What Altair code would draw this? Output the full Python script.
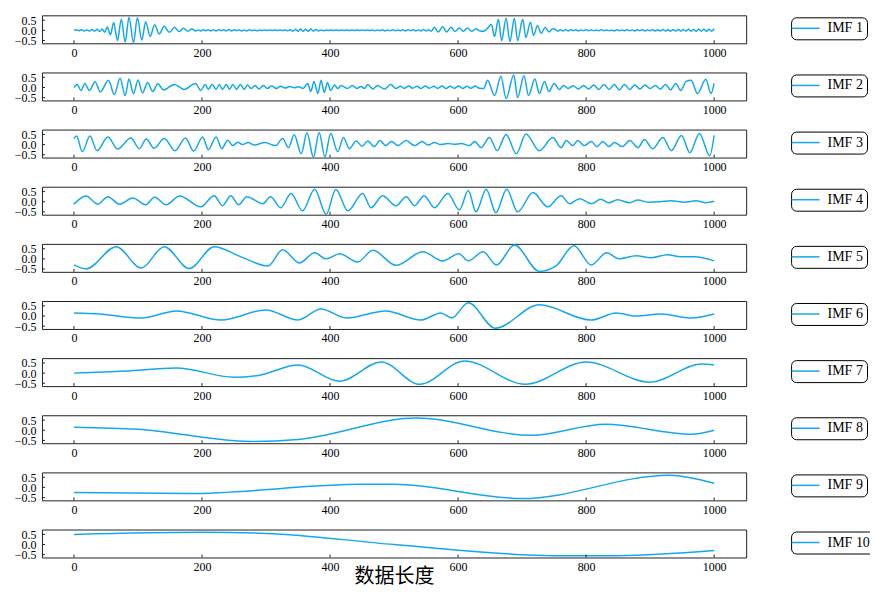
import altair as alt
import pandas as pd

LINE_COLOR = "#14a8ea"
NAMES = ["IMF 1", "IMF 2", "IMF 3", "IMF 4", "IMF 5",
         "IMF 6", "IMF 7", "IMF 8", "IMF 9", "IMF 10"]
X_TICKS = [0, 200, 400, 600, 800, 1000]
Y_TICKS = [-0.5, 0.0, 0.5]
X_DOMAIN = [-50, 1050]
Y_DOMAIN = [-0.64, 0.74]
X_TITLE = "数据长度"

# ---------------- IMF 1 (high frequency, two bursts) ----------------
IMF1_A_START, IMF1_STEP = 0, 4
IMF1_A = [0.0, 0.03, -0.02, 0.03, -0.03, 0.02, -0.03, 0.04, -0.04, 0.05]
IMF1_BURST1_X = [40, 44, 48, 52, 57, 62, 68, 74, 80, 86, 93, 99, 106, 112, 119,
                 126, 133, 141, 149, 157, 164, 171, 178, 184, 190]
IMF1_BURST1_Y = [-0.05, 0.07, -0.1, 0.16, -0.22, 0.38, -0.5, 0.55, -0.58, 0.65,
                 -0.62, 0.62, -0.48, 0.42, -0.3, 0.28, -0.18, 0.2, -0.1, 0.15,
                 -0.06, 0.1, -0.04, 0.07, -0.03]
IMF1_B_START = 194
IMF1_B = [0.02, -0.03, 0.03, -0.02, 0.03, -0.03, 0.02, -0.03, 0.03, -0.02,
          0.03, -0.03, 0.04, -0.03, 0.03, -0.02, 0.03, -0.03, 0.02, -0.03,
          0.03, -0.02, 0.02, -0.02, 0.01, -0.01, 0.01, -0.01, 0.01, -0.01,
          0.01, -0.01, 0.01, -0.01, 0.01, -0.02, 0.03, -0.04, 0.05, -0.05,
          0.06, -0.05, 0.05, -0.05, 0.06, -0.04, 0.04, -0.03, 0.02, -0.02,
          0.01, -0.01, 0.01, -0.01, 0.01, -0.01, 0.01, -0.01, 0.01, -0.01,
          0.01, -0.01, 0.01, -0.01, 0.01, -0.01, 0.01, -0.01, 0.02, -0.02,
          0.02, -0.02, 0.03, -0.03, 0.02, -0.02, 0.03, -0.02, 0.02, -0.02,
          0.03, -0.03, 0.03, -0.02, 0.03, -0.03, 0.02, -0.03, 0.04, -0.03,
          0.03]
IMF1_C_X = [558, 563, 569, 576, 582, 589, 595, 602, 608, 615, 621, 628, 634]
IMF1_C_Y = [-0.05, 0.15, -0.08, 0.18, -0.08, 0.15, -0.06, 0.12, -0.05, 0.12,
            -0.05, 0.08, -0.03]
IMF1_BURST2_X = [640, 646, 652, 657, 663, 668, 675, 681, 688, 693, 701, 706, 713,
                 718, 724, 730, 736, 742, 748]
IMF1_BURST2_Y = [-0.05, 0.1, 0.3, -0.3, 0.55, -0.5, 0.6, -0.55, 0.6, -0.5, 0.55,
                 -0.35, 0.4, -0.25, 0.22, -0.15, 0.15, -0.08, 0.08]
IMF1_D_START = 752
IMF1_D = [0.04, -0.04, 0.03, -0.03, 0.04, -0.03, 0.03, -0.02, 0.03, -0.03,
          0.02, -0.02, 0.03, -0.02, 0.02, -0.02, 0.02, -0.02, 0.03, -0.02,
          0.02, -0.02, 0.02, -0.03, 0.03, -0.02, 0.02, -0.02, 0.03, -0.02,
          0.02, -0.03, 0.03, -0.02, 0.03, -0.03, 0.02, -0.02, 0.03, -0.03,
          0.03, -0.03, 0.04, -0.03, 0.03, -0.04, 0.04, -0.03, 0.04, -0.04,
          0.04, -0.04, 0.05, -0.04, 0.04, -0.05, 0.05, -0.04, 0.05, -0.05,
          0.05, -0.04, 0.08]

# ---------------- IMF 2 ----------------
IMF2_X = [0, 5, 11, 17, 24, 33, 41, 54, 63, 72, 80, 86, 93, 100, 107, 115, 123,
          131, 140, 157, 172, 190, 198, 205, 210, 216, 222, 227, 232, 238, 243,
          248, 254, 260, 266, 271, 277, 283, 289, 296, 302, 309, 316, 323, 330,
          337, 344, 351, 358, 365, 370, 375, 381, 386, 391, 396, 401, 407, 412,
          417, 427, 435, 442, 448, 454, 459, 467, 474, 485, 495, 503, 510, 516,
          523, 529, 536, 542, 549, 555, 562, 568, 575, 581, 588, 594, 601, 607,
          614, 620, 627, 633, 640, 646, 657, 667, 675, 687, 693, 703, 710, 720,
          727, 735, 742, 750, 758, 765, 772, 780, 788, 796, 804, 812, 820, 828,
          836, 844, 852, 860, 868, 876, 884, 892, 900, 908, 916, 924, 932, 940,
          948, 956, 964, 974, 987, 995, 1000]
IMF2_Y = [0.0, 0.15, -0.15, 0.2, -0.15, 0.28, -0.22, 0.35, -0.35, 0.45, -0.4,
          0.42, -0.32, 0.37, -0.27, 0.25, -0.2, 0.18, -0.12, 0.15, -0.1, 0.2,
          -0.15, 0.15, -0.1, 0.15, -0.1, 0.15, -0.1, 0.15, -0.1, 0.15, -0.1,
          0.15, -0.1, 0.12, -0.05, 0.1, -0.08, 0.1, -0.05, 0.08, -0.05, 0.06,
          -0.03, 0.05, -0.02, 0.04, -0.05, 0.2, -0.2, 0.3, -0.3, 0.35, -0.25,
          0.25, -0.15, 0.12, -0.05, 0.1, -0.05, 0.1, -0.05, 0.05, -0.05, 0.15,
          -0.08, 0.1, -0.08, 0.15, -0.05, 0.06, -0.04, 0.07, -0.04, 0.06, -0.05,
          0.07, -0.04, 0.06, -0.04, 0.07, -0.05, 0.06, -0.04, 0.07, -0.05, 0.06,
          -0.04, 0.07, -0.04, -0.05, 0.35, -0.4, 0.55, -0.55, 0.62, -0.5, 0.58,
          -0.4, 0.42, -0.3, 0.3, -0.2, 0.2, -0.1, 0.1, -0.05, 0.08, -0.08, 0.1,
          -0.08, 0.12, -0.1, 0.15, -0.1, 0.15, -0.12, 0.15, -0.1, 0.12, -0.08,
          0.12, -0.05, 0.1, -0.08, 0.15, -0.12, 0.2, -0.15, 0.3, 0.35, -0.3,
          0.4, -0.3, 0.2]

# ---------------- IMF 3 ----------------
IMF3_X = [0, 4, 13, 25, 36, 53, 68, 89, 102, 113, 125, 141, 158, 174, 187, 201,
          210, 222, 231, 240, 248, 256, 263, 272, 282, 298, 315, 326, 335, 344,
          355, 364, 374, 383, 392, 401, 412, 421, 430, 441, 450, 459, 469, 478,
          487, 496, 506, 519, 532, 544, 553, 563, 573, 584, 594, 605, 618, 626,
          636, 649, 661, 675, 691, 706, 727, 748, 761, 769, 779, 787, 797, 808,
          817, 826, 836, 844, 857, 868, 881, 891, 904, 920, 933, 949, 962, 977,
          993, 1000]
IMF3_Y = [0.3, 0.42, -0.35, 0.42, -0.3, 0.38, -0.22, 0.33, -0.2, 0.28, -0.18,
          0.3, -0.3, 0.32, -0.32, 0.38, -0.25, 0.38, -0.2, 0.22, -0.05, 0.12,
          0.0, 0.1, -0.02, 0.1, -0.05, 0.3, -0.15, 0.48, -0.45, 0.58, -0.62, 0.6,
          -0.6, 0.55, -0.35, 0.35, -0.2, 0.18, -0.08, 0.18, -0.1, 0.2, -0.05,
          0.15, -0.05, 0.2, -0.05, 0.15, -0.02, 0.1, 0.0, 0.05, 0.02, 0.05,
          -0.05, 0.15, -0.15, 0.35, -0.3, 0.5, -0.45, 0.52, -0.3, 0.35, -0.15,
          0.2, -0.05, 0.2, -0.05, 0.15, -0.1, 0.15, -0.1, 0.1, -0.1, 0.2, -0.15,
          0.25, -0.2, 0.35, -0.3, 0.45, -0.4, 0.55, -0.55, 0.45]

# ---------------- IMF 4 ----------------
IMF4_X = [0, 19, 37, 53, 71, 92, 112, 126, 144, 165, 198, 219, 232, 245, 257,
          270, 295, 307, 323, 339, 357, 376, 394, 409, 428, 451, 464, 482, 503,
          519, 532, 547, 563, 584, 602, 616, 628, 644, 659, 676, 693, 717, 740,
          761, 774, 790, 808, 823, 836, 849, 868, 881, 897, 915, 933, 954, 972,
          987, 1000]
IMF4_Y = [-0.12, 0.28, -0.12, 0.25, -0.12, 0.18, -0.15, 0.22, -0.15, 0.28,
          -0.25, 0.3, -0.2, 0.3, -0.15, 0.25, -0.1, 0.25, -0.3, 0.4, -0.45, 0.62,
          -0.62, 0.6, -0.45, 0.4, -0.3, 0.3, -0.2, 0.25, -0.2, 0.3, -0.3, 0.4,
          -0.4, 0.55, -0.5, 0.62, -0.55, 0.62, -0.5, 0.45, -0.25, 0.3, -0.1,
          0.15, -0.1, 0.12, -0.05, 0.1, -0.05, 0.08, -0.02, 0.0, 0.05, -0.02,
          0.05, -0.05, 0.02]

# ---------------- IMF 5 ----------------
IMF5_X = [0, 19, 66, 105, 141, 180, 219, 261, 303, 326, 352, 376, 394, 415, 443,
          467, 503, 545, 576, 601, 616, 639, 660, 688, 727, 753, 781, 808, 832,
          852, 878, 901, 927, 948, 969, 1000]
IMF5_Y = [-0.3, -0.5, 0.6, -0.45, 0.6, -0.48, 0.6, 0.1, -0.35, 0.45, -0.2, 0.3,
          0.0, 0.25, -0.15, 0.42, -0.32, 0.35, -0.1, 0.25, -0.1, 0.35, -0.3,
          0.68, -0.62, -0.35, 0.65, -0.3, 0.3, 0.0, 0.15, 0.05, 0.2, 0.1, 0.1,
          -0.1]

# ---------------- IMF 6 ----------------
IMF6_X = [0, 40, 105, 160, 230, 300, 350, 386, 425, 487, 542, 573, 590, 616,
          658, 727, 808, 847, 878, 917, 964, 1000]
IMF6_Y = [0.15, 0.1, -0.1, 0.25, -0.2, 0.3, -0.2, 0.35, -0.1, 0.25, -0.2, 0.15,
          -0.1, 0.65, -0.6, 0.55, -0.2, 0.15, 0.0, 0.1, -0.1, 0.1]

# ---------------- IMF 7 ----------------
IMF7_X = [0, 80, 160, 250, 290, 350, 415, 480, 540, 610, 705, 800, 900, 980, 1000]
IMF7_Y = [0.0, 0.1, 0.25, -0.2, -0.1, 0.4, -0.4, 0.55, -0.55, 0.6, -0.55, 0.55,
          -0.45, 0.45, 0.4]

# ---------------- IMF 8 ----------------
IMF8_X = [0, 100, 275, 350, 535, 715, 830, 965, 1000]
IMF8_Y = [0.15, 0.05, -0.55, -0.45, 0.6, -0.25, 0.3, -0.2, 0.0]

# ---------------- IMF 9 ----------------
IMF9_X = [0, 180, 450, 500, 700, 930, 1000]
IMF9_Y = [-0.25, -0.3, 0.15, 0.15, -0.55, 0.6, 0.2]

# ---------------- IMF 10 ----------------
IMF10_X = [0, 200, 300, 500, 750, 850, 1000]
IMF10_Y = [0.5, 0.6, 0.55, 0.0, -0.55, -0.55, -0.3]


def imf1_series():
    xs = [IMF1_A_START + i * IMF1_STEP for i in range(len(IMF1_A))]
    ys = list(IMF1_A)
    xs += IMF1_BURST1_X
    ys += IMF1_BURST1_Y
    xs += [IMF1_B_START + i * IMF1_STEP for i in range(len(IMF1_B))]
    ys += IMF1_B
    xs += IMF1_C_X
    ys += IMF1_C_Y
    xs += IMF1_BURST2_X
    ys += IMF1_BURST2_Y
    xs += [IMF1_D_START + i * IMF1_STEP for i in range(len(IMF1_D))]
    ys += IMF1_D
    return xs, ys


SERIES = [imf1_series(), (IMF2_X, IMF2_Y), (IMF3_X, IMF3_Y), (IMF4_X, IMF4_Y),
          (IMF5_X, IMF5_Y), (IMF6_X, IMF6_Y), (IMF7_X, IMF7_Y), (IMF8_X, IMF8_Y),
          (IMF9_X, IMF9_Y), (IMF10_X, IMF10_Y)]

PANEL_W = 705
PANEL_H = 28
FRAME = "#222222"


def panel(i, last):
    xs, ys = SERIES[i]
    name = NAMES[i]
    df = pd.DataFrame({"x": xs, "y": ys, "name": [name] * len(xs)})
    xscale = alt.Scale(domain=X_DOMAIN, nice=False, zero=False)
    yscale = alt.Scale(domain=Y_DOMAIN, nice=False, zero=False)
    xtitle = X_TITLE if last else None

    def xaxis():
        return alt.Axis(values=X_TICKS, format="d", ticks=False, domain=False,
                        grid=False, labelPadding=4, labelFlush=False,
                        labelOverlap=False)

    def yaxis():
        return alt.Axis(values=Y_TICKS, format=".1f", ticks=False, domain=False,
                        grid=False, labelPadding=6, labelOverlap=False)

    legend = alt.Legend(
        title=None, orient="none", legendX=750, legendY=2,
        symbolType="M-2.8,0H2.8", symbolSize=100, symbolOffset=3.5,
        symbolStrokeWidth=1.5, labelOffset=15,
        labelFont="Liberation Serif", labelFontSize=14, labelColor="black",
        strokeColor="black", cornerRadius=5, padding=4, fillColor="white",
    )
    line = alt.Chart(df).mark_line(strokeWidth=1.5, interpolate="monotone").encode(
        x=alt.X("x:Q", scale=xscale, axis=xaxis(), title=xtitle),
        y=alt.Y("y:Q", scale=yscale, axis=yaxis(), title=None),
        color=alt.Color("name:N", scale=alt.Scale(domain=[name], range=[LINE_COLOR]),
                        legend=legend),
    )
    xt = alt.Chart(pd.DataFrame({"v": X_TICKS})).mark_rule(
        color=FRAME, strokeWidth=1).encode(
        x=alt.X("v:Q", scale=xscale, axis=xaxis(), title=xtitle),
        y=alt.value(PANEL_H), y2=alt.value(PANEL_H - 3))
    yt = alt.Chart(pd.DataFrame({"v": Y_TICKS})).mark_rule(
        color=FRAME, strokeWidth=1).encode(
        y=alt.Y("v:Q", scale=yscale, axis=yaxis(), title=None),
        x=alt.value(0), x2=alt.value(3))
    return alt.layer(line, xt, yt).properties(width=PANEL_W, height=PANEL_H)


panels = [panel(i, i == len(NAMES) - 1) for i in range(len(NAMES))]

chart = alt.vconcat(*panels, spacing=29.2, bounds="flush").resolve_scale(
    color="independent"
).properties(
    padding={"left": 5, "top": 5, "right": -5, "bottom": -2}
).configure_view(
    stroke=FRAME, strokeWidth=1
).configure_axis(
    labelFont="Liberation Serif", labelFontSize=12, labelColor="black",
    titleFont="Noto Sans CJK SC", titleFontSize=20, titleFontWeight="normal",
    titleColor="black", titlePadding=-6
)

chart.save("out.html", embed_options={"renderer": "svg", "actions": False})
